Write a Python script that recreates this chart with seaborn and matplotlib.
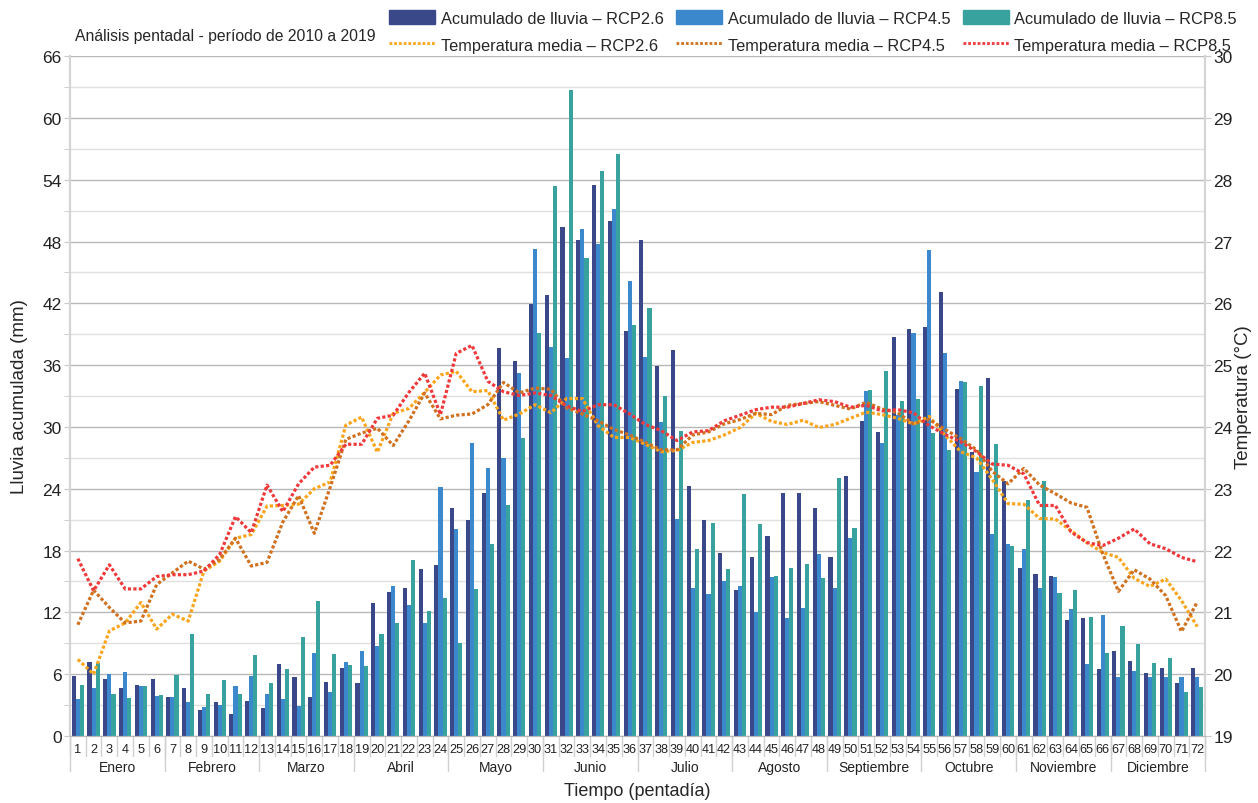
import numpy as np
import pandas as pd
import seaborn as sns
import matplotlib.pyplot as plt
from matplotlib.patches import Patch
from matplotlib.lines import Line2D

# Datos: acumulado de lluvia (mm) y temperatura media (°C) por pentada
pentadas = list(range(1, 73))
meses = ['Enero', 'Febrero', 'Marzo', 'Abril', 'Mayo', 'Junio', 'Julio',
         'Agosto', 'Septiembre', 'Octubre', 'Noviembre', 'Diciembre']
escenarios = ['RCP2.6', 'RCP4.5', 'RCP8.5']

lluvia_26 = [5.8, 7.2, 5.5, 4.7, 5.0, 5.5, 3.8, 4.7, 2.5, 3.3, 2.1, 3.4,
             2.7, 7.0, 5.7, 3.8, 5.2, 6.6, 5.1, 12.9, 14.0, 14.4, 16.2, 16.6,
             22.1, 21.0, 23.6, 37.7, 36.4, 41.9, 42.8, 49.4, 48.1, 53.5, 50.0, 39.3,
             48.1, 35.9, 37.5, 24.3, 21.0, 17.8, 14.2, 17.4, 19.4, 23.6, 23.6, 22.1,
             17.4, 25.2, 30.6, 29.5, 38.7, 39.5, 39.7, 43.1, 33.7, 27.6, 34.8, 24.8,
             16.3, 15.7, 15.5, 11.3, 11.5, 6.5, 8.3, 7.3, 6.1, 6.6, 5.1, 6.6]
lluvia_45 = [3.6, 4.7, 6.0, 6.2, 4.9, 3.9, 3.8, 3.3, 2.8, 3.0, 4.9, 5.8,
             4.1, 3.6, 2.9, 8.1, 4.3, 7.2, 8.3, 8.7, 14.6, 12.7, 11.0, 24.2,
             20.1, 28.4, 26.0, 27.0, 35.2, 47.3, 37.8, 36.7, 49.2, 47.8, 51.2, 44.2,
             36.8, 30.5, 21.1, 14.4, 13.8, 15.0, 14.6, 12.0, 15.4, 11.5, 12.4, 17.7,
             14.4, 19.2, 33.5, 28.4, 31.2, 39.1, 47.2, 37.2, 34.5, 25.6, 19.6, 18.6,
             18.2, 14.4, 15.4, 12.3, 7.0, 11.7, 5.7, 6.3, 5.7, 5.7, 5.7, 5.7]
lluvia_85 = [5.0, 7.1, 4.1, 3.7, 4.9, 4.0, 5.9, 9.9, 4.1, 5.4, 4.1, 7.9,
             5.1, 6.5, 9.6, 13.1, 8.0, 6.9, 6.8, 9.9, 11.0, 17.1, 12.1, 13.4,
             9.0, 14.3, 18.6, 22.4, 28.9, 39.1, 53.4, 62.7, 46.4, 54.8, 56.5, 39.9,
             41.5, 33.0, 29.6, 18.2, 20.7, 16.2, 23.5, 20.6, 15.5, 16.3, 16.7, 15.3,
             25.0, 20.2, 33.6, 35.4, 32.5, 32.7, 29.4, 27.8, 34.4, 34.0, 28.3, 18.4,
             22.9, 24.8, 13.9, 14.2, 11.6, 8.1, 10.7, 8.9, 7.1, 7.6, 4.3, 4.8]

temp_26 = [20.24, 20.0, 20.7, 20.83, 21.16, 20.73, 20.97, 20.86, 21.67, 21.83, 22.2, 22.26,
           22.72, 22.73, 22.75, 23.0, 23.11, 24.03, 24.16, 23.59, 24.22, 24.3, 24.56, 24.84,
           24.9, 24.57, 24.59, 24.11, 24.21, 24.36, 24.23, 24.46, 24.46, 24.02, 23.83, 23.83,
           23.72, 23.6, 23.62, 23.75, 23.78, 23.87, 23.99, 24.22, 24.09, 24.04, 24.11, 23.99,
           24.04, 24.14, 24.24, 24.2, 24.14, 24.05, 24.17, 23.87, 23.6, 23.5, 23.15, 22.76,
           22.75, 22.52, 22.51, 22.32, 22.13, 21.97, 21.89, 21.55, 21.42, 21.54, 21.19, 20.77]
temp_45 = [20.8, 21.36, 21.08, 20.83, 20.86, 21.45, 21.64, 21.83, 21.7, 21.86, 22.2, 21.75,
           21.81, 22.46, 22.89, 22.28, 23.02, 23.8, 23.9, 23.98, 23.7, 24.1, 24.55, 24.13,
           24.19, 24.21, 24.36, 24.72, 24.55, 24.63, 24.61, 24.31, 24.21, 24.1, 23.96, 23.87,
           23.75, 23.63, 23.63, 23.87, 23.92, 24.05, 24.12, 24.22, 24.2, 24.35, 24.38, 24.41,
           24.35, 24.29, 24.4, 24.29, 24.23, 24.05, 24.12, 23.96, 23.81, 23.63, 23.28, 23.08,
           23.33, 23.06, 22.92, 22.77, 22.7, 21.95, 21.34, 21.69, 21.54, 21.27, 20.69, 21.17]
temp_85 = [21.87, 21.35, 21.77, 21.38, 21.38, 21.58, 21.61, 21.61, 21.67, 21.94, 22.55, 22.29,
           23.06, 22.63, 23.08, 23.35, 23.38, 23.72, 23.72, 24.14, 24.19, 24.56, 24.87, 24.2,
           25.19, 25.32, 24.74, 24.57, 24.51, 24.55, 24.51, 24.34, 24.25, 24.36, 24.36, 24.21,
           24.04, 23.94, 23.78, 23.92, 23.94, 24.1, 24.19, 24.28, 24.32, 24.32, 24.38, 24.44,
           24.41, 24.32, 24.35, 24.26, 24.28, 24.23, 24.02, 23.88, 23.76, 23.6, 23.4, 23.38,
           23.24, 22.73, 22.73, 22.3, 22.13, 22.08, 22.2, 22.35, 22.11, 22.03, 21.89, 21.82]

colores_barras = ['#3a4889', '#3b88cc', '#38a39e']
colores_lineas = ['#fba51c', '#d0711f', '#f0393b']

df = pd.DataFrame({
    'pentada': pentadas * 3,
    'lluvia': lluvia_26 + lluvia_45 + lluvia_85,
    'escenario': [e for e in escenarios for _ in pentadas],
})

sns.set_style('white')
plt.rcParams['font.family'] = ['Liberation Sans', 'DejaVu Sans']

fig, ax = plt.subplots(figsize=(12.58, 8.04), dpi=100)
fig.subplots_adjust(left=0.0556, right=0.958, top=0.929, bottom=0.0833)

sns.barplot(data=df, x='pentada', y='lluvia', hue='escenario', hue_order=escenarios,
            palette=colores_barras, width=0.78, saturation=1, legend=False,
            linewidth=0, ax=ax)

ax.set_ylim(0, 66)
ax.set_xlim(-0.5, 71.5)
ax.set_yticks(range(0, 67, 6))
ax.set_yticks(range(3, 66, 6), minor=True)
ax.yaxis.grid(True, which='major', color='#b8b8b8', lw=1)
ax.yaxis.grid(True, which='minor', color='#e0e0e0', lw=1)
ax.set_axisbelow(True)
ax.tick_params(axis='y', which='both', direction='out', length=4, color='#c8c8c8',
               labelsize=12.5, labelcolor='#222222', pad=2)
ax.set_xticks(range(72))
ax.set_xticklabels([str(p) for p in pentadas], fontsize=9.2, color='#222222')
ax.tick_params(axis='x', length=0, pad=5)
ax.set_xlabel('')
ax.set_ylabel('Lluvia acumulada (mm)', fontsize=13.5, labelpad=10)

# eje secundario de temperatura
ax2 = ax.twinx()
x_pos = np.arange(72)
for temp, c in zip([temp_26, temp_45, temp_85], colores_lineas):
    sns.lineplot(x=x_pos, y=temp, color=c, linewidth=2.3, ax=ax2)
    ax2.lines[-1].set_dashes((1, 0.7))
ax2.set_ylim(19, 30)
ax2.set_yticks(range(19, 31))
ax2.tick_params(axis='y', direction='out', length=4, color='#c8c8c8',
                labelsize=12.5, labelcolor='#222222', pad=2)
ax2.set_ylabel('')

for a in (ax, ax2):
    a.spines['top'].set_visible(False)
    a.spines['left'].set_color('#d4d4d4')
    a.spines['right'].set_color('#d4d4d4')
    a.spines['left'].set_linewidth(1.5)
    a.spines['right'].set_linewidth(1.5)
    a.spines['bottom'].set_color('#b8b8b8')

# separadores de pentadas y meses
trans = ax.get_xaxis_transform()
for i in range(73):
    ax.plot([i - 0.5, i - 0.5], [0, -0.03], transform=trans, color='#d0d0d0',
            lw=1, clip_on=False)
for m, mes in enumerate(meses):
    ax.plot([6 * m - 0.5, 6 * m - 0.5], [0, -0.052], transform=trans, color='#d0d0d0',
            lw=1, clip_on=False)
    ax.text(6 * m + 2.5, -0.046, mes, transform=trans, ha='center', va='center',
            fontsize=10, color='#222222')
ax.plot([71.5, 71.5], [0, -0.052], transform=trans, color='#d0d0d0', lw=1, clip_on=False)

fig.text(637 / 1258, 1 - 792 / 804, 'Tiempo (pentadía)', ha='center', va='center',
         fontsize=13)
fig.text(1243 / 1258, 1 - 397 / 804, 'Temperatura (°C)', ha='center', va='center',
         rotation=90, fontsize=13.5)
fig.text(75 / 1258, 1 - 37 / 804, 'Análisis pentadal - período de 2010 a 2019',
         ha='left', va='center', fontsize=11.3)

handles, labels = [], []
for e, cb, cl in zip(escenarios, colores_barras, colores_lineas):
    handles.append(Patch(facecolor=cb, edgecolor=cb))
    labels.append('Acumulado de lluvia – ' + e)
    handles.append(Line2D([0], [0], color=cl, lw=2, dashes=(1, 0.7)))
    labels.append('Temperatura media – ' + e)
fig.legend(handles, labels, ncol=3, loc='upper left',
           bbox_to_anchor=(378 / 1258, 1 - 0 / 804), frameon=False, fontsize=11.8,
           handlelength=2.8, handleheight=0.9, handletextpad=0.35,
           columnspacing=0.75, labelspacing=0.68, borderpad=0.2)

fig.savefig('out.png', dpi=100)
